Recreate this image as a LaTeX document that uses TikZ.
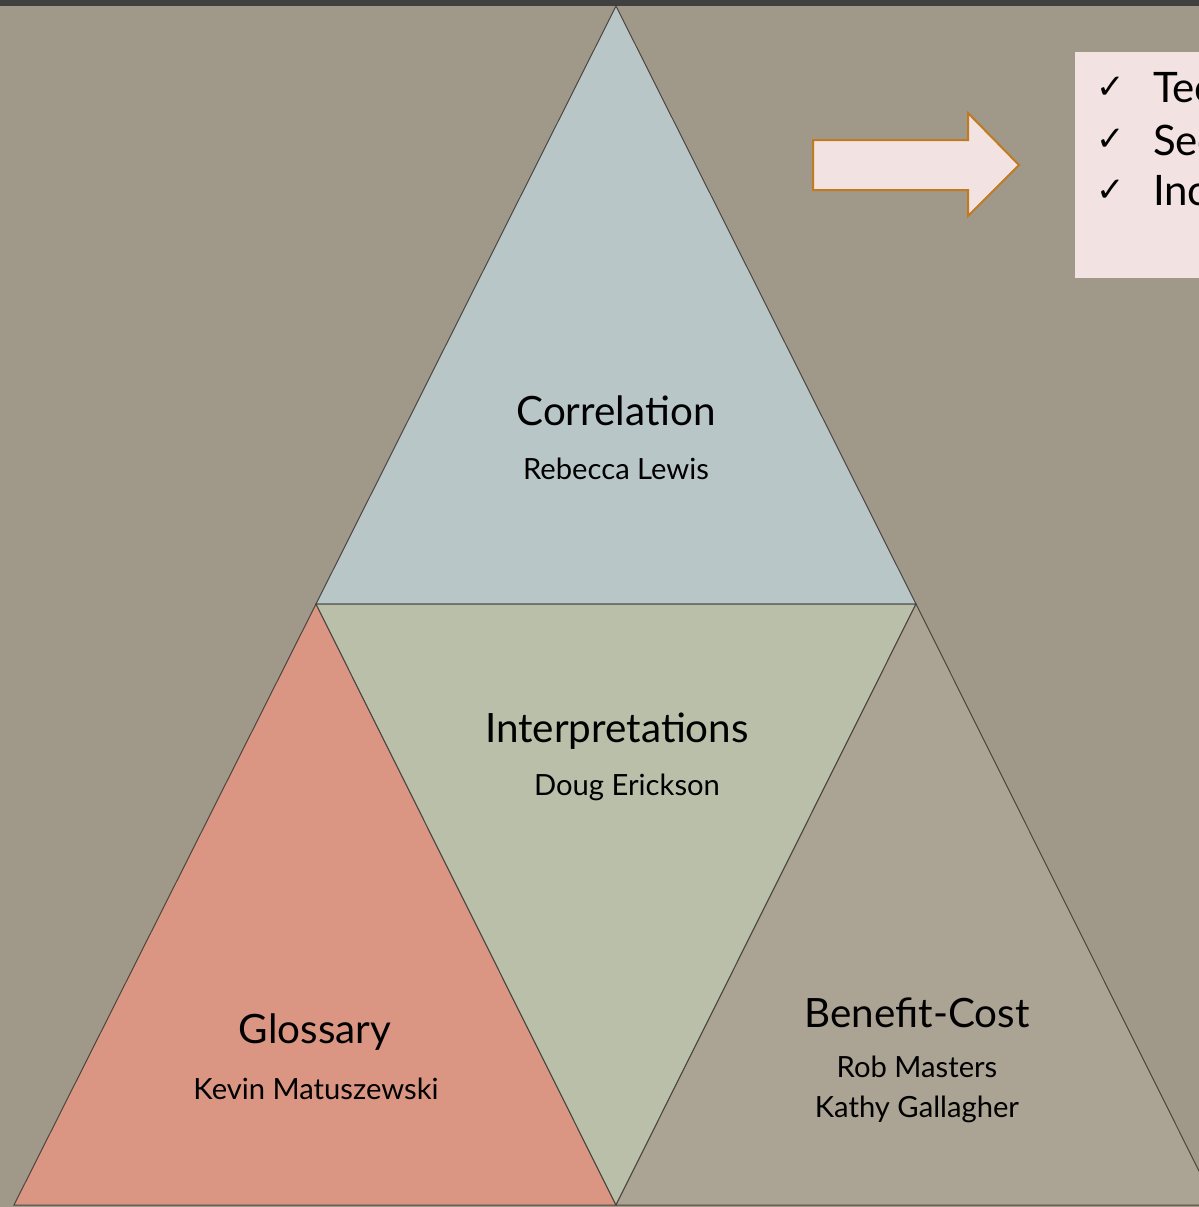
\documentclass[tikz,border=0pt]{standalone}
\usepackage{fontspec}
\setmainfont{Lato}
\newfontfamily\checkfont{DejaVu Sans}
\usetikzlibrary{positioning}
\definecolor{bgtaupe}{HTML}{A09889}
\definecolor{topbar}{HTML}{404040}
\definecolor{edgegray}{HTML}{4A4640}
\definecolor{corrblue}{HTML}{B9C6C8}
\definecolor{glosred}{HTML}{DA9682}
\definecolor{interpgreen}{HTML}{B9BFA9}
\definecolor{bcstone}{HTML}{ABA393}
\definecolor{boxpink}{HTML}{F2E2E2}
\definecolor{arrowgold}{HTML}{C07A20}

\begin{document}
\begin{tikzpicture}[x=0.5pt, y=-0.5pt,
  tri/.style={draw=edgegray, line width=0.5pt},
  title/.style={font=\fontsize{20.2}{24}\selectfont},
  who/.style={font=\fontsize{14.6}{20}\selectfont, align=center},
  tick/.style={font=\checkfont\fontsize{17}{20}\selectfont},
  item/.style={font=\fontsize{21}{24}\selectfont, anchor=west}]
  \useasboundingbox (0,0) rectangle (1199,1207);
  \clip (0,0) rectangle (1199,1207);
  % 背景
  \fill[bgtaupe] (0,0) rectangle (1199,1207);
  \fill[topbar] (0,0) rectangle (1199,6);
  % 三角形
  \filldraw[tri, fill=corrblue] (616,6) -- (916,604) -- (316,604) -- cycle;
  \filldraw[tri, fill=glosred] (316,604) -- (616,1205) -- (14,1205) -- cycle;
  \filldraw[tri, fill=interpgreen] (316,604) -- (916,604) -- (616,1205) -- cycle;
  \filldraw[tri, fill=bcstone] (916,604) -- (1216,1205) -- (616,1205) -- cycle;
  % ラベル
  \node[title] (corr) at (616,411) {Correlation};
  \node[who] (corrwho) at (616,469) {Rebecca Lewis};
  \node[title] (interp) at (617,731) {Interpretations};
  \node[who] (interpwho) at (627,787) {Doug Erickson};
  \node[title] (glos) at (315,1032) {Glossary};
  \node[who] (gloswho) at (316,1089) {Kevin Matuszewski};
  \node[title] (bc) at (917,1013) {Benefit-Cost};
  \node[who] (bcwho) at (917,1089) {Rob Masters\\Kathy Gallagher};
  % 矢印とチェックリスト
  \filldraw[fill=boxpink, draw=arrowgold, line width=1pt]
    (813,140) -- (968,140) -- (968,113) -- (1019,165) -- (968,216) -- (968,190) -- (813,190) -- cycle;
  \fill[boxpink] (1075,52) rectangle (1210,278);
  \foreach \y/\t [count=\i] in {88/Tec, 140/Sec, 191/Inc} {
    \node[tick] (tick\i) at (1111,\y) {✓};
    \node[item] (item\i) at (1146,\y) {\t};
  }
\end{tikzpicture}
\end{document}
